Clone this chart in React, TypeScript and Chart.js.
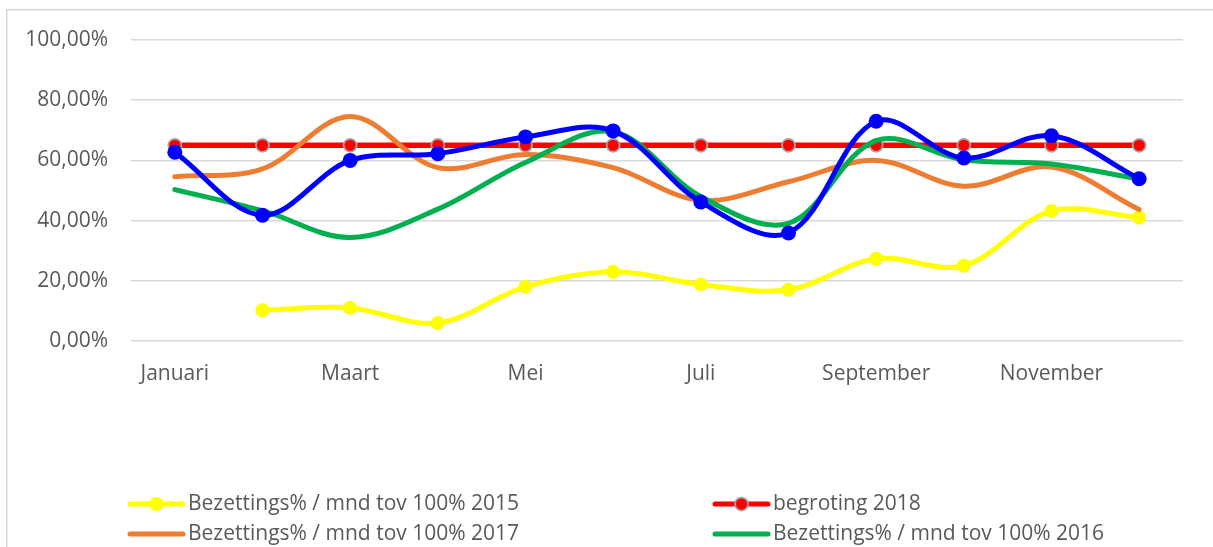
import { useEffect, useRef } from "react";
import { Chart, registerables } from "chart.js";

Chart.register(...registerables);

const months = [
  "Januari", "Februari", "Maart", "April", "Mei", "Juni",
  "Juli", "Augustus", "September", "Oktober", "November", "December",
];

const bez2015 = [null, 10.2, 11.0, 6.0, 18.0, 23.0, 18.8, 17.0, 27.3, 25.0, 43.2, 41.0];
const begroting2018 = [65, 65, 65, 65, 65, 65, 65, 65, 65, 65, 65, 65];
const bez2017 = [54.6, 57.2, 74.6, 57.6, 62.0, 57.6, 46.7, 52.9, 60.0, 51.4, 57.8, 43.7];
const bez2016 = [50.3, 43.3, 34.4, 43.8, 59.3, 69.5, 48.0, 39.1, 66.6, 60.2, 58.8, 53.8];
const bez2018 = [62.7, 41.8, 60.0, 62.2, 67.8, 69.8, 46.2, 35.9, 73.0, 60.8, 68.2, 53.9];

const yTicks = [0, 20, 40, 60, 80, 100];

const FONT = "'Open Sans', 'DejaVu Sans', sans-serif";
const TEXT = "#595959";
const GRID = "#D9D9D9";

const framePlugin = {
  id: "frame",
  beforeDraw(chart: any) {
    const ctx = chart.ctx;
    ctx.save();
    ctx.fillStyle = "#ffffff";
    ctx.fillRect(0, 0, chart.width, chart.height);
    ctx.strokeStyle = GRID;
    ctx.lineWidth = 1.5;
    ctx.strokeRect(6.75, 9.75, 1400, 700);
    ctx.restore();
  },
};

const gridLegendPlugin = {
  id: "gridLegend",
  afterDraw(chart: any) {
    const ctx = chart.ctx;
    const cols = [128, 713];
    const rows = [504, 534, 564];
    ctx.save();
    chart.data.datasets.forEach((ds: any, i: number) => {
      const x0 = cols[i % 2];
      const y = rows[Math.floor(i / 2)];
      ctx.strokeStyle = ds.borderColor;
      ctx.lineWidth = 5;
      ctx.lineCap = "round";
      ctx.beginPath();
      ctx.moveTo(x0 + 2, y);
      ctx.lineTo(x0 + 55, y);
      ctx.stroke();
      if (ds.pointRadius > 0) {
        ctx.beginPath();
        ctx.arc(x0 + 28.5, y, ds.pointRadius, 0, Math.PI * 2);
        ctx.fillStyle = ds.pointBackgroundColor;
        ctx.fill();
        if (ds.pointBorderWidth > 0) {
          ctx.lineWidth = ds.pointBorderWidth;
          ctx.strokeStyle = ds.pointBorderColor;
          ctx.stroke();
        }
      }
      ctx.fillStyle = TEXT;
      ctx.font = `21px ${FONT}`;
      ctx.textBaseline = "middle";
      ctx.textAlign = "left";
      ctx.fillText(ds.label, x0 + 60, y);
    });
    ctx.restore();
  },
};

export default function App() {
  const ref = useRef<HTMLCanvasElement | null>(null);

  useEffect(() => {
    if (!ref.current) return;
    const common = {
      borderWidth: 5,
      tension: 0.35,
      fill: false,
      borderCapStyle: "round" as const,
      borderJoinStyle: "round" as const,
    };
    const chart = new Chart(ref.current, {
      type: "line",
      data: {
        labels: months,
        datasets: [
          {
            ...common,
            label: "Bezettings% / mnd tov 100% 2015",
            data: bez2015,
            borderColor: "#FFFF00",
            pointBackgroundColor: "#FFFF00",
            pointBorderColor: "#FFFF00",
            pointBorderWidth: 0,
            pointRadius: 7,
            order: 5,
          },
          {
            ...common,
            label: "begroting 2018",
            data: begroting2018,
            borderColor: "#FF0000",
            borderWidth: 5.5,
            pointBackgroundColor: "#FF0000",
            pointBorderColor: "#A5A5A5",
            pointBorderWidth: 1.75,
            pointRadius: 6.5,
            order: 4,
          },
          {
            ...common,
            label: "Bezettings% / mnd tov 100% 2017",
            data: bez2017,
            borderColor: "#ED7D31",
            pointBackgroundColor: "#ED7D31",
            pointRadius: 0,
            pointBorderWidth: 0,
            order: 3,
          },
          {
            ...common,
            label: "Bezettings% / mnd tov 100% 2016",
            data: bez2016,
            borderColor: "#00B050",
            pointBackgroundColor: "#00B050",
            pointRadius: 0,
            pointBorderWidth: 0,
            order: 2,
          },
          {
            ...common,
            label: "Bezettings% / mnd tov 100% 2018",
            data: bez2018,
            borderColor: "#0000FF",
            pointBackgroundColor: "#0000FF",
            pointBorderColor: "#0000FF",
            pointBorderWidth: 0,
            pointRadius: 7.5,
            order: 1,
          },
        ],
      },
      options: {
        responsive: false,
        maintainAspectRatio: false,
        animation: false,
        layout: { padding: { top: 40, right: 30, left: 0, bottom: 0 } },
        plugins: {
          legend: { display: false },
          tooltip: { enabled: false },
        },
        scales: {
          x: {
            offset: true,
            grid: { display: false, drawTicks: false },
            border: { display: false },
            afterFit(scale: any) {
              scale.height = 206;
            },
            ticks: {
              autoSkip: false,
              maxRotation: 0,
              padding: 20,
              color: TEXT,
              font: { family: FONT, size: 21 },
              callback: (_v: any, i: number) => (i % 2 === 0 ? months[i] : ""),
            },
          },
          y: {
            min: 0,
            max: 100,
            afterFit(scale: any) {
              scale.width = 131;
            },
            afterBuildTicks(scale: any) {
              scale.ticks = yTicks.map((v) => ({ value: v }));
            },
            grid: { color: GRID, lineWidth: 1.5, drawTicks: false },
            border: { display: false },
            ticks: {
              padding: 23,
              color: TEXT,
              font: { family: FONT, size: 21 },
              callback: (v: any) => Number(v).toFixed(2).replace(".", ",") + "%",
            },
          },
        },
      },
      plugins: [framePlugin, gridLegendPlugin],
    });
    return () => chart.destroy();
  }, []);

  return (
    <div style={{ position: "absolute", left: 0, top: 0, width: 1213, height: 547, overflow: "hidden" }}>
      <canvas ref={ref} width={1213} height={547} style={{ display: "block" }} />
    </div>
  );
}
